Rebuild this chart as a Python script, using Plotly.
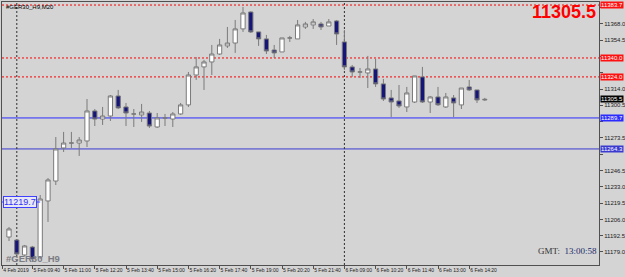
import plotly.graph_objects as go

# ---- data ----
bars = list(range(62))
opens = [11191.4, 11188.9, 11176.5, 11183.1, 11174.8, 11221.3, 11237.8, 11265.2, 11269.3, 11269.3,
         11271.0, 11295.9, 11289.2, 11291.7, 11308.3, 11299.2, 11293.4, 11292.6, 11294.2, 11282.6,
         11290.1, 11289.2, 11293.4, 11300.9, 11325.7, 11332.4, 11336.5, 11343.1, 11349.8, 11352.2,
         11363.9, 11377.9, 11361.4, 11355.6, 11346.4, 11344.8, 11356.4, 11355.6, 11365.5, 11367.2,
         11368.0, 11366.3, 11370.5, 11353.1, 11332.4, 11328.2, 11327.4, 11330.7, 11318.3, 11306.7,
         11304.2, 11299.2, 11303.3, 11324.1, 11303.3, 11307.5, 11299.2, 11306.7, 11300.9, 11315.8,
         11313.3, 11305.0]
highs = [11199.7, 11189.7, 11184.8, 11184.0, 11226.2, 11240.3, 11274.3, 11278.5, 11278.5, 11274.3,
         11305.8, 11297.5, 11299.2, 11309.1, 11313.3, 11302.5, 11297.5, 11301.7, 11295.9, 11294.2,
         11293.4, 11295.0, 11302.5, 11328.2, 11340.6, 11338.2, 11350.6, 11355.6, 11365.5, 11371.3,
         11382.1, 11378.5, 11361.4, 11358.9, 11350.6, 11356.4, 11358.1, 11371.3, 11369.7, 11372.1,
         11369.7, 11372.1, 11371.3, 11363.0, 11334.0, 11331.5, 11341.5, 11339.0, 11322.4, 11313.3,
         11317.4, 11315.8, 11324.9, 11332.4, 11308.3, 11315.8, 11310.8, 11309.1, 11314.9, 11321.6,
         11313.3, 11306.7]
lows = [11188.1, 11176.5, 11175.7, 11170.7, 11173.2, 11203.9, 11234.5, 11261.9, 11265.2, 11258.6,
        11266.0, 11283.4, 11284.3, 11287.6, 11297.5, 11283.4, 11282.6, 11286.8, 11281.8, 11281.8,
        11283.4, 11282.6, 11292.6, 11299.2, 11321.6, 11313.3, 11325.7, 11342.3, 11348.1, 11344.0,
        11361.4, 11360.5, 11349.8, 11343.1, 11339.8, 11344.8, 11353.1, 11355.6, 11363.9, 11363.9,
        11363.0, 11366.3, 11350.6, 11329.9, 11324.1, 11323.2, 11314.9, 11315.8, 11304.2, 11290.9,
        11298.4, 11295.0, 11302.5, 11302.5, 11294.2, 11300.0, 11298.4, 11290.9, 11297.5, 11312.5,
        11302.5, 11304.2]
closes = [11198.1, 11177.3, 11184.0, 11173.2, 11222.9, 11238.7, 11264.4, 11269.3, 11269.3, 11271.8,
          11295.9, 11289.2, 11291.7, 11308.3, 11298.4, 11294.2, 11293.4, 11295.0, 11283.4, 11290.1,
          11290.1, 11293.4, 11300.9, 11325.7, 11332.4, 11336.5, 11343.1, 11350.6, 11352.2, 11363.9,
          11377.1, 11361.4, 11355.6, 11345.6, 11344.0, 11356.4, 11356.4, 11367.2, 11368.0, 11369.7,
          11365.5, 11369.7, 11359.7, 11332.4, 11328.2, 11328.2, 11330.7, 11318.3, 11305.8, 11303.3,
          11300.0, 11310.8, 11324.9, 11303.3, 11307.5, 11301.0, 11307.5, 11302.5, 11314.9, 11313.3,
          11305.0, 11305.5]

tick_pos = [-0.85, 3, 7, 11, 15, 19, 23, 27, 31, 35, 39, 43, 47, 51, 55, 59]
tick_text = ["4 Feb 2019", "5 Feb 09:40", "5 Feb 11:00", "5 Feb 12:20", "5 Feb 13:40",
             "5 Feb 15:00", "5 Feb 16:20", "5 Feb 17:40", "5 Feb 19:00", "5 Feb 20:20",
             "5 Feb 21:40", "6 Feb 09:00", "6 Feb 10:20", "6 Feb 11:40", "6 Feb 13:00",
             "6 Feb 14:20"]

price_ticks = [11179.0, 11192.5, 11206.0, 11219.5, 11233.0, 11246.5, 11260.0, 11273.5,
               11287.0, 11300.5, 11314.0, 11327.5, 11341.0, 11354.5, 11368.0, 11381.5]
# tick labels hidden behind the coloured price boxes in the reference
hidden_ticks = [11381.5, 11341.0, 11287.0, 11327.5, 11260.0]

red_levels = [11383.7, 11339.8, 11324.1]
red_labels = ["11383.7", "11340.0", "11324.0"]
blue_levels = [11290.1, 11264.4]
blue_labels = ["11289.7", "11264.3"]
blue_colors = ["#2b2bff", "#3a3ad0"]
current_price = 11305.5
separators = [1, 43]
left_mark_value = 11220.4
left_mark_text = "11219.7"

BG = "#d4d4d4"
TICKFONT = "Liberation Sans Narrow, Liberation Sans, Arial"

fig = go.Figure()
fig.add_trace(go.Candlestick(
    x=bars, open=opens, high=highs, low=lows, close=closes,
    increasing=dict(fillcolor="#ffffff", line=dict(color="#7a7a7a", width=1)),
    decreasing=dict(fillcolor="#16167a", line=dict(color="#7a7a7a", width=1)),
    whiskerwidth=0, hoverinfo="skip", showlegend=False,
))

shapes = []
for lv in red_levels:
    shapes.append(dict(type="line", xref="paper", x0=0, x1=1, yref="y", y0=lv, y1=lv,
                       line=dict(color="#ff0000", width=1, dash="2px,2px"), layer="below"))
for lv, c in zip(blue_levels, blue_colors):
    shapes.append(dict(type="line", xref="paper", x0=0, x1=1, yref="y", y0=lv, y1=lv,
                       line=dict(color=c, width=1), layer="below"))
for s in separators:
    shapes.append(dict(type="line", xref="x", x0=s, x1=s, yref="paper", y0=0, y1=1,
                       line=dict(color="#303030", width=1, dash="2px,2px"), layer="below"))
shapes.append(dict(type="line", xref="x", x0=-0.9, x1=4, yref="y", y0=left_mark_value,
                   y1=left_mark_value, line=dict(color="#4040ff", width=1)))

annotations = []
for lv, t in zip(red_levels, red_labels):
    annotations.append(dict(xref="paper", x=1, xanchor="left", xshift=1, yref="y", y=lv,
                            text=t, showarrow=False, bgcolor="#ff1010",
                            font=dict(size=6, color="white", family="Liberation Sans"),
                            borderpad=0))
for lv, t, c in zip(blue_levels, blue_labels, blue_colors):
    annotations.append(dict(xref="paper", x=1, xanchor="left", xshift=1, yref="y", y=lv,
                            text=t, showarrow=False, bgcolor=c,
                            font=dict(size=6, color="white", family="Liberation Sans"),
                            borderpad=0))
annotations.append(dict(xref="paper", x=1, xanchor="left", xshift=1, yref="y", y=current_price,
                        text=f"{current_price:.1f}", showarrow=False, bgcolor="#000000",
                        font=dict(size=6, color="white", family="Liberation Sans"), borderpad=0))
annotations.append(dict(xref="paper", x=1, xanchor="right", xshift=-1, yref="paper", y=1,
                        yanchor="top", yshift=2, text=f"<b>{current_price:.1f}</b>",
                        showarrow=False,
                        font=dict(size=18, color="#ff0000", family="Liberation Sans")))
annotations.append(dict(xref="paper", x=0, xanchor="left", xshift=2, yref="paper", y=1,
                        yanchor="top", yshift=0, text="#GER30_H9,M20", showarrow=False,
                        font=dict(size=6, color="#000000", family="Liberation Sans")))
annotations.append(dict(xref="paper", x=0, xanchor="left", xshift=1, yref="y",
                        y=left_mark_value, text=left_mark_text, showarrow=False,
                        bgcolor="#e8e8f4", bordercolor="#4040ff", borderwidth=1, borderpad=0,
                        font=dict(size=9, color="#3030ff", family="Liberation Sans")))
annotations.append(dict(xref="paper", x=0, xanchor="left", xshift=2, yref="paper", y=0,
                        yanchor="bottom", yshift=-1, text="<b>#GER30_H9</b>", showarrow=False,
                        font=dict(size=9.5, color="#7c7c84", family="Liberation Sans")))
annotations.append(dict(xref="paper", x=1, xanchor="right", xshift=0, yref="paper", y=0,
                        yanchor="bottom", yshift=7,
                        text="<span style='color:#333'>GMT:</span>  <span style='color:#1a2a6a'>13:00:58</span>",
                        showarrow=False,
                        font=dict(size=9, color="#222", family="Liberation Serif")))

fig.update_layout(
    width=625, height=277,
    margin=dict(l=2, r=26, t=2, b=12, autoexpand=False),
    paper_bgcolor=BG, plot_bgcolor=BG,
    boxgap=0.22,
    shapes=shapes, annotations=annotations,
    xaxis=dict(range=[-0.897, 75.64], rangeslider=dict(visible=False), showgrid=False,
               zeroline=False, showline=True, linecolor="#505050", linewidth=1, mirror=True,
               tickmode="array", tickvals=tick_pos, ticktext=tick_text, tickangle=0,
               automargin=False,
               ticks="outside", ticklen=3, tickcolor="#505050",
               ticklabelposition="outside right",
               tickfont=dict(size=5, color="#202020", family=TICKFONT)),
    yaxis=dict(range=[11168.2, 11386.2], side="right", showgrid=False, zeroline=False,
               showline=True, linecolor="#505050", linewidth=1, mirror=True, automargin=False,
               tickmode="array", tickvals=price_ticks,
               ticktext=["" if v in hidden_ticks else f"{v:.1f}" for v in price_ticks],
               ticks="outside", ticklen=3, tickcolor="#505050",
               tickfont=dict(size=6, color="#202020", family="Liberation Sans")),
)

fig.write_html("out.html")
